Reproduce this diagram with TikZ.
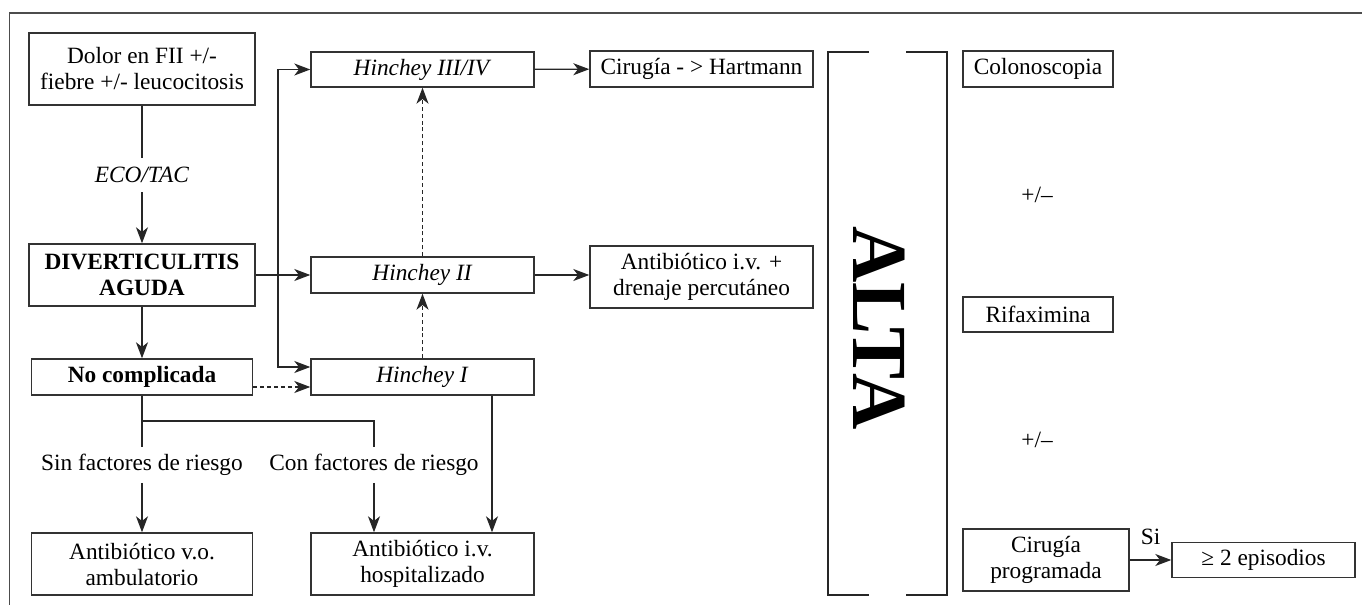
\documentclass[tikz,border=0pt]{standalone}
\usepackage{fontspec}
\setmainfont{Liberation Serif}
\usetikzlibrary{arrows.meta}
\begin{document}
\begin{tikzpicture}[x=0.75pt,y=-0.75pt,
  every node/.style={font=\fontsize{17.5}{19.5}\selectfont, inner sep=0pt, align=center},
  bx/.style 2 args={draw=black!80, line width=1.05pt, minimum width=#1*0.75pt, minimum height=#2*0.75pt},
  ln/.style={draw=black!85, line width=1pt},
  arr/.style={ln, -{Stealth[length=12pt,width=9pt,inset=3.5pt]}},
  darr/.style={arr, dash pattern=on 3pt off 2.2pt},
  gap/.style={minimum height=#1*0.75pt}
]
\useasboundingbox (0,0) rectangle (1362,605);
% frame
\draw[draw=black!70, line width=1.1pt] (9.6,605) -- (9.6,13) -- (1362,13);
% boxes
\node[bx={226}{72}] (dolor) at (142,69) {Dolor en FII +/-\\fiebre +/- leucocitosis};
\node[bx={226}{62}] (div) at (142,275) {\textbf{DIVERTICULITIS}\\\textbf{AGUDA}};
\node[bx={221}{36}] (nc) at (142,377) {\textbf{No complicada}};
\node[bx={221}{62}] (avo) at (142,564) {Antibiótico v.o.\\ambulatorio};
\node[bx={223}{35}] (h34) at (422.5,69.5) {\textit{Hinchey III/IV}};
\node[bx={223}{36}] (h2) at (422.5,275) {\textit{Hinchey II}};
\node[bx={223}{36}] (h1) at (422.5,377) {\textit{Hinchey I}};
\node[bx={223}{62}] (aiv) at (422.5,564) {Antibiótico i.v.\\hospitalizado};
\node[bx={223}{36}] (hart) at (701.5,69) {Cirugía - > Hartmann};
\node[bx={223}{62}] (dren) at (701.5,277) {Antibiótico i.v. +\\drenaje percutáneo};
\node[bx={150}{36}] (colon) at (1038,69) {Colonoscopia};
\node (pm1) at (1037,195) {+/–};
\node[bx={150}{35}] (rifa) at (1038,314.5) {Rifaximina};
\node (pm2) at (1037,440) {+/–};
\node[bx={166}{62}] (cprog) at (1046,560) {Cirugía\\programada};
\node[bx={183}{35}] (epis) at (1263.5,560) {≥ 2 episodios};
% labels on lines
\node[gap=34] (eco) at (142,175) {\textit{ECO/TAC}};
\node[gap=35] (sin) at (142,465) {Sin factores de riesgo};
\node[gap=35] (con) at (374,465) {Con factores de riesgo};
% ALTA bracket
\draw[ln] (869,52) -- (828,52) -- (828,595) -- (869,595);
\draw[ln] (906,52) -- (947,52) -- (947,595) -- (906,595);
\node[rotate=-90, font=\fontsize{58.5}{60}\selectfont\bfseries] (alta) at (879,328) {ALTA};
% connectors
\coordinate (j1) at (278,275);
\coordinate (j2) at (142,421);
\coordinate (hx) at (492,0);
\draw[ln] (dolor) -- (eco);
\draw[arr] (eco) -- (div);
\draw[arr] (div) -- (h2);
\draw[arr] (j1) |- (h34.west);
\draw[arr] (j1) |- ([yshift=7.5pt]h1.west);
\draw[arr] (div) -- (nc);
\draw[darr] ([yshift=-7.5pt]nc.east) -- ([yshift=-7.5pt]nc.east -| h1.west);
\draw[darr] (h1) -- (h2);
\draw[darr] (h2) -- (h34);
\draw[ln] (nc) -- (sin);
\draw[arr] (sin) -- (avo);
\draw[ln] (j2) -| (con);
\draw[arr] (con) -- (con |- aiv.north);
\draw[arr] (h1.south -| hx) -- (aiv.north -| hx);
\draw[arr] (h34) -- (hart);
\draw[arr] (h2.east) -- (h2.east -| dren.west);
\draw[arr] (cprog) -- node[above=11pt] (si) {Si} (epis);
\end{tikzpicture}
\end{document}
